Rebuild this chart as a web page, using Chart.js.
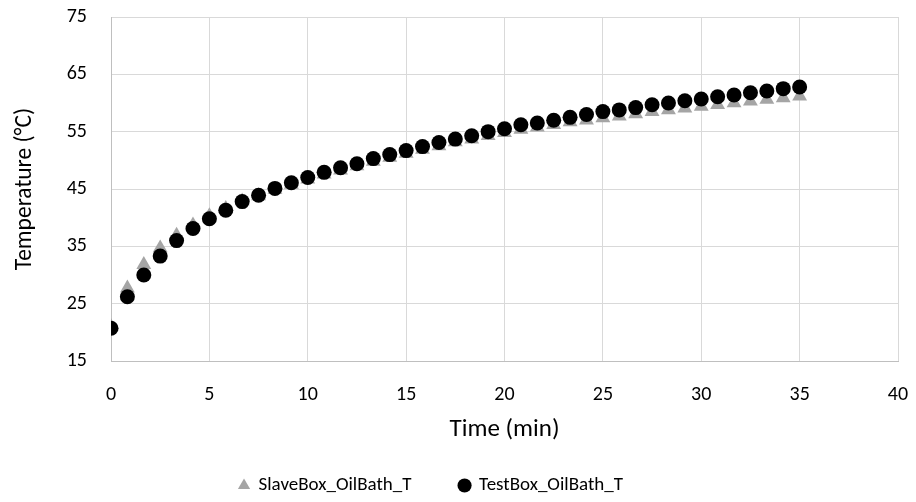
<!DOCTYPE html>
<html>
<head>
<meta charset="utf-8">
<script src="https://cdn.jsdelivr.net/npm/chart.js@4"></script>
<style>
  html, body { margin: 0; padding: 0; background: #fff; }
  #wrap { width: 916px; height: 502px; }
</style>
</head>
<body>
<div id="wrap"><canvas id="myChart" width="916" height="502"></canvas></div>
<script>
// time stamps (min), one reading every 50 s
const timeMin = [
  0, 0.833, 1.667, 2.5, 3.333, 4.167, 5, 5.833, 6.667, 7.5,
  8.333, 9.167, 10, 10.833, 11.667, 12.5, 13.333, 14.167, 15, 15.833,
  16.667, 17.5, 18.333, 19.167, 20, 20.833, 21.667, 22.5, 23.333, 24.167,
  25, 25.833, 26.667, 27.5, 28.333, 29.167, 30, 30.833, 31.667, 32.5,
  33.333, 34.167, 35
];
const slaveBoxT = [
  21.0, 27.7, 31.8, 34.7, 36.9, 38.7, 40.3, 41.6, 42.9, 43.8,
  44.9, 45.8, 46.7, 47.6, 48.3, 49.0, 49.8, 50.5, 51.2, 51.9,
  52.5, 53.2, 53.7, 54.3, 54.8, 55.4, 55.8, 56.2, 56.7, 57.0,
  57.4, 57.7, 58.1, 58.5, 58.8, 59.1, 59.4, 59.7, 60.0, 60.3,
  60.6, 60.9, 61.2
];
const testBoxT = [
  20.7, 26.2, 30.0, 33.3, 36.0, 38.1, 39.8, 41.3, 42.8, 43.9,
  45.1, 46.1, 47.0, 47.9, 48.7, 49.4, 50.3, 51.0, 51.7, 52.4,
  53.1, 53.7, 54.3, 55.0, 55.5, 56.2, 56.5, 57.0, 57.5, 58.0,
  58.5, 58.8, 59.2, 59.7, 60.0, 60.4, 60.7, 61.1, 61.4, 61.8,
  62.1, 62.5, 62.8
];
const seriesNames = ['SlaveBox_OilBath_T', 'TestBox_OilBath_T'];
const xTitle = 'Time (min)';
const yTitle = 'Temperature (°C)';

const FONT = 'Carlito, Calibri, Lato, "Open Sans", sans-serif';
Chart.defaults.font.family = FONT;
Chart.defaults.color = '#000';

function pts(ys) {
  return timeMin.map((t, i) => ({ x: t, y: ys[i] }));
}

// nudge the legend box after layout
const legendShift = {
  id: 'legendShift',
  afterLayout(chart) {
    const lg = chart.legend;
    lg.left -= 18; lg.right -= 18;
    lg.top += 3; lg.bottom += 3;
  }
};

const data = {
  datasets: [{
    label: seriesNames[0],
    data: pts(slaveBoxT),
    pointStyle: 'triangle',
    pointRadius: 8.6,
    backgroundColor: '#a5a5a5',
    borderColor: '#a5a5a5',
    borderWidth: 0,
    order: 1
  }, {
    label: seriesNames[1],
    data: pts(testBoxT),
    pointStyle: 'circle',
    pointRadius: 7.5,
    backgroundColor: '#000',
    borderColor: '#000',
    borderWidth: 0,
    order: 0
  }]
};

const config = {
  type: 'scatter',
  data,
  plugins: [legendShift],
  options: {
    responsive: false,
    animation: false,
    layout: { autoPadding: false, padding: { left: 0, right: 18, top: 17, bottom: 0 } },
    scales: {
      x: {
        type: 'linear',
        min: 0, max: 40,
        ticks: { stepSize: 5, font: { size: 20 }, padding: 22 },
        grid: { color: '#d9d9d9', lineWidth: 1, drawTicks: false },
        border: { color: '#bfbfbf', width: 1 },
        title: { display: true, text: xTitle, font: { size: 25 }, padding: { top: 0, bottom: -20 } },
        afterFit: s => {
          s.height = 64;
          s.paddingLeft = 0; s.paddingRight = 0;
        }
      },
      y: {
        min: 15, max: 75,
        ticks: { stepSize: 10, font: { size: 20 }, padding: 24 },
        grid: { color: '#d9d9d9', lineWidth: 1, drawTicks: false },
        border: { color: '#bfbfbf', width: 1 },
        title: { display: true, text: yTitle, font: { size: 23.5 }, padding: { top: 11, bottom: 0 } },
        afterFit: s => {
          s.width = 111;
          s.paddingTop = 0; s.paddingBottom = 0;
        }
      }
    },
    plugins: {
      tooltip: { enabled: false },
      legend: {
        position: 'bottom',
        labels: {
          usePointStyle: true,
          boxHeight: 10,
          boxWidth: 10,
          font: { size: 19 },
          padding: 48,
          sort: (a, b) => a.datasetIndex - b.datasetIndex
        }
      }
    }
  }
};

let myChart = new Chart(document.getElementById('myChart'), config);
</script>
</body>
</html>
